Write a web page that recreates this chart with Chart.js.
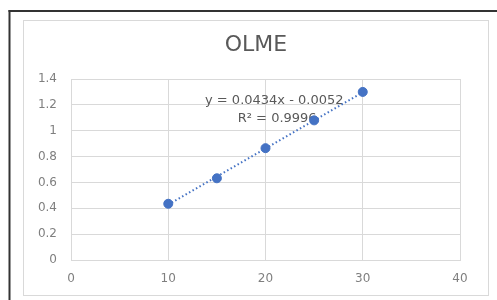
<!DOCTYPE html>
<html>
<head>
<meta charset="utf-8">
<script src="https://cdn.jsdelivr.net/npm/chart.js@4.4.1/dist/chart.umd.min.js"></script>
<style>
  html, body { margin: 0; padding: 0; background: #fff; overflow: hidden; }
  #wrap { width: 497px; height: 300px; position: relative; }
  canvas { display: block; }
</style>
</head>
<body>
<div id="wrap"><canvas id="canvas" width="497" height="300"></canvas></div>
<script>
// data
const xValues = [10, 15, 20, 25, 30];
const yValues = [0.435, 0.632, 0.865, 1.08, 1.30];
const xTickLabels = ['0', '10', '20', '30', '40'];
const yTickLabels = ['0', '0.2', '0.4', '0.6', '0.8', '1', '1.2', '1.4'];
const trendSlope = 0.0434;
const trendIntercept = -0.0052;
const trendX = [10, 30];
const titleText = 'OLME';
const equationText = 'y = 0.0434x - 0.0052';
const r2Text = 'R² = 0.9996';

const blue = '#4472C4';
const gridGray = '#d9d9d9';

const points = xValues.map((x, i) => ({ x: x, y: yValues[i] }));
const trend = trendX.map(x => ({ x: x, y: trendSlope * x + trendIntercept }));

// page frame: dark outer border + light chart-area border + title
const framePlugin = {
    id: 'frame',
    beforeDraw(chart) {
        const c = chart.ctx;
        c.save();
        c.fillStyle = '#fff';
        c.fillRect(0, 0, chart.width, chart.height);
        c.fillStyle = '#333';
        c.fillRect(8.5, 10, 2, chart.height - 10);
        c.fillRect(8.5, 10, chart.width - 8.5, 2);
        c.strokeStyle = gridGray;
        c.lineWidth = 1;
        c.strokeRect(23.5, 20.5, 465, 275);
        c.font = '22px "DejaVu Sans"';
        c.fillStyle = '#595959';
        c.textAlign = 'center';
        c.textBaseline = 'middle';
        c.fillText(titleText, 256, 45);
        c.restore();
    }
};

// trendline equation text
const eqPlugin = {
    id: 'equation',
    beforeDatasetsDraw(chart) {
        const c = chart.ctx;
        const xs = chart.scales.x, ys = chart.scales.y;
        c.save();
        c.font = '13px "DejaVu Sans"';
        c.fillStyle = '#595959';
        c.textAlign = 'center';
        c.textBaseline = 'middle';
        c.fillText(equationText, xs.getPixelForValue(20.9), ys.getPixelForValue(1.235));
        c.fillText(r2Text, xs.getPixelForValue(21.2), ys.getPixelForValue(1.097));
        c.restore();
    }
};

const ctx = document.getElementById('canvas').getContext('2d');
const myChart = new Chart(ctx, {
    type: 'scatter',
    data: {
        datasets: [{
            type: 'line',
            label: 'trend',
            data: trend,
            borderColor: blue,
            borderWidth: 2,
            borderDash: [1.5, 2.5],
            pointRadius: 0,
            fill: false,
            order: 2
        }, {
            label: 'OLME',
            data: points,
            backgroundColor: blue,
            borderColor: blue,
            pointRadius: 4.5,
            order: 1
        }]
    },
    options: {
        responsive: false,
        animation: false,
        layout: { padding: { left: 23, right: 37, top: 79, bottom: 10 } },
        plugins: {
            legend: { display: false },
            tooltip: { enabled: false },
            title: { display: false }
        },
        scales: {
            x: {
                type: 'linear',
                min: 0, max: 40,
                afterFit: s => { s.height = 30; },
                ticks: {
                    stepSize: 10,
                    padding: 12,
                    color: '#7f7f7f',
                    font: { family: 'DejaVu Sans', size: 12 },
                    callback: (v, i) => xTickLabels[i]
                },
                grid: { color: gridGray, drawTicks: false },
                border: { color: gridGray }
            },
            y: {
                min: 0, max: 1.4,
                afterFit: s => { s.width = 48; },
                ticks: {
                    stepSize: 0.2,
                    padding: 14,
                    color: '#7f7f7f',
                    font: { family: 'DejaVu Sans', size: 12 },
                    callback: (v, i) => yTickLabels[i]
                },
                grid: { color: gridGray, drawTicks: false },
                border: { color: gridGray }
            }
        }
    },
    plugins: [framePlugin, eqPlugin]
});
</script>
</body>
</html>
